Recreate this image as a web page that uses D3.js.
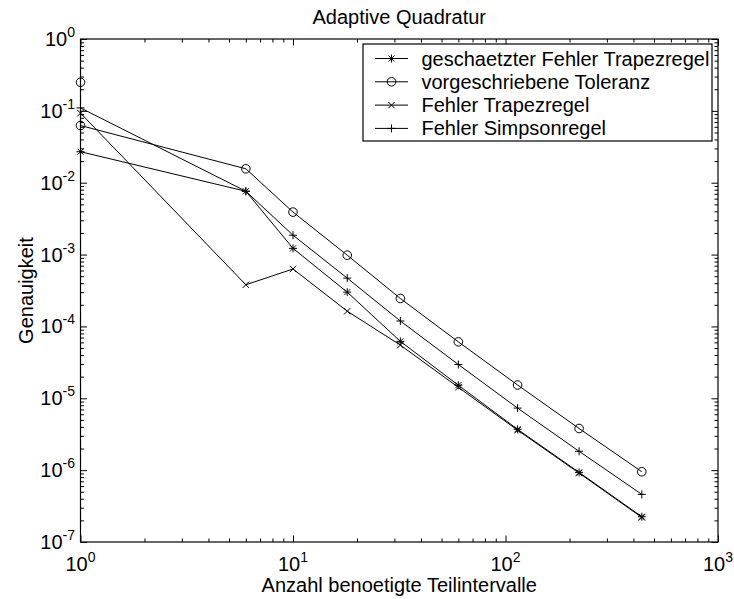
<!DOCTYPE html>
<html>
<head>
<meta charset="utf-8">
<script src="https://cdn.jsdelivr.net/npm/d3@7"></script>
<style>
  body { margin: 0; background: #fff; }
  svg { display: block; font-family: "Liberation Sans", Arial, Helvetica, sans-serif; }
</style>
</head>
<body>
<div id="chart"></div>
<script>
// Werte
var nIntervals = [1, 6, 10, 18, 32, 60, 114, 222, 438];
var tolIntervals = [1, 1, 6, 10, 18, 32, 60, 114, 222, 438];
var estTrapErr = [0.027, 0.0076, 1.22e-3, 3.0e-4, 6.2e-5, 1.52e-5, 3.7e-6, 9.3e-7, 2.25e-7];
var tolerance = [0.25, 0.0625, 0.015625, 0.0039, 9.8e-4, 2.45e-4, 6.1e-5, 1.53e-5, 3.8e-6, 9.5e-7];
var trapErr = [0.093, 3.8e-4, 6.3e-4, 1.63e-4, 5.5e-5, 1.42e-5, 3.6e-6, 9.1e-7, 2.2e-7];
var simpErr = [0.11, 0.0076, 1.86e-3, 4.7e-4, 1.19e-4, 2.95e-5, 7.3e-6, 1.83e-6, 4.6e-7];

var legendLabels = ["geschaetzter Fehler Trapezregel", "vorgeschriebene Toleranz", "Fehler Trapezregel", "Fehler Simpsonregel"];
var xTickExp = [0, 1, 2, 3];
var yTickExp = [-7, -6, -5, -4, -3, -2, -1, 0];

var width = 734, height = 599;
var margin = {top: 39, right: 16, bottom: 57, left: 80.5};

var x = d3.scaleLog().domain([1, 1000]).range([margin.left, width - margin.right]);
var y = d3.scaleLog().domain([1e-7, 1]).range([height - margin.bottom, margin.top]);

var svg = d3.select("#chart").append("svg")
    .attr("width", width)
    .attr("height", height);

svg.append("rect").attr("width", width).attr("height", height).attr("fill", "#fff");

// minor tick values
var xMinor = [], yMinor = [];
[1, 10, 100].forEach(function(d) { for (var k = 2; k < 10; k++) xMinor.push(d * k); });
yTickExp.slice(0, -1).forEach(function(e) { for (var k = 2; k < 10; k++) yMinor.push(Math.pow(10, e) * k); });
var xMajor = xTickExp.map(function(e) { return Math.pow(10, e); });
var yMajor = yTickExp.map(function(e) { return Math.pow(10, e); });

var x0 = x.range()[0], x1 = x.range()[1], y0 = y.range()[0], y1 = y.range()[1];

function ticks(axis, tx, ty, vals, size) {
  var g = svg.append("g")
      .attr("transform", "translate(" + tx + "," + ty + ")")
      .call(axis.tickValues(vals).tickSize(-size).tickFormat(""));
  g.select(".domain").remove();
  g.selectAll("line").attr("stroke", "#000").attr("stroke-width", 1);
}
ticks(d3.axisBottom(x), 0, y0, xMajor, 6.5);
ticks(d3.axisBottom(x), 0, y0, xMinor, 3.5);
ticks(d3.axisTop(x), 0, y1, xMajor, 6.5);
ticks(d3.axisTop(x), 0, y1, xMinor, 3.5);
ticks(d3.axisLeft(y), x0, 0, yMajor, 6.5);
ticks(d3.axisLeft(y), x0, 0, yMinor, 3.5);
ticks(d3.axisRight(y), x1, 0, yMajor, 6.5);
ticks(d3.axisRight(y), x1, 0, yMinor, 3.5);

svg.append("rect")
    .attr("x", x0).attr("y", y1)
    .attr("width", x1 - x0).attr("height", y0 - y1)
    .attr("fill", "none").attr("stroke", "#000").attr("stroke-width", 1.2);

// tick labels 10^n
function powLabel(sel, e) {
  sel.append("tspan").text("10");
  sel.append("tspan").attr("font-size", 14).attr("dy", -9).text(String(e).replace("-", "-"));
}
xTickExp.forEach(function(e) {
  var t = svg.append("text")
      .attr("x", x(Math.pow(10, e))).attr("y", 571)
      .attr("text-anchor", "middle").attr("font-size", 20);
  powLabel(t, e);
});
yTickExp.forEach(function(e) {
  var t = svg.append("text")
      .attr("x", x0 - 5.5).attr("y", y(Math.pow(10, e)) + 7)
      .attr("text-anchor", "end").attr("font-size", 20);
  powLabel(t, e);
});

svg.append("text").attr("x", (x0 + x1) / 2).attr("y", 24)
    .attr("text-anchor", "middle").attr("font-size", 20).text("Adaptive Quadratur");
svg.append("text").attr("x", (x0 + x1) / 2).attr("y", 592)
    .attr("text-anchor", "middle").attr("font-size", 20).text("Anzahl benoetigte Teilintervalle");
svg.append("text")
    .attr("transform", "translate(33," + ((y0 + y1) / 2) + ") rotate(-90)")
    .attr("text-anchor", "middle").attr("font-size", 20).text("Genauigkeit");

// markers
var markerPath = {
  star: "M-4,0H4M0,-4V4M-3,-3L3,3M-3,3L3,-3",
  plus: "M-4,0H4M0,-4V4",
  cross: "M-3.2,-3.2L3.2,3.2M-3.2,3.2L3.2,-3.2"
};
function marker(g, type, px, py) {
  if (type === "circle") {
    g.append("circle").attr("cx", px).attr("cy", py).attr("r", 4.3)
        .attr("fill", "none").attr("stroke", "#000").attr("stroke-width", 1);
  } else {
    g.append("path").attr("transform", "translate(" + px + "," + py + ")")
        .attr("d", markerPath[type]).attr("fill", "none")
        .attr("stroke", "#000").attr("stroke-width", 1);
  }
}

var series = [
  {xs: nIntervals, ys: estTrapErr, m: "star"},
  {xs: tolIntervals, ys: tolerance, m: "circle"},
  {xs: nIntervals, ys: trapErr, m: "cross"},
  {xs: nIntervals, ys: simpErr, m: "plus"}
];

var line = d3.line().x(function(d) { return x(d[0]); }).y(function(d) { return y(d[1]); });

series.forEach(function(s) {
  var pts = s.xs.map(function(d, i) { return [d, s.ys[i]]; });
  var g = svg.append("g");
  g.append("path").datum(pts).attr("d", line)
      .attr("fill", "none").attr("stroke", "#000").attr("stroke-width", 1);
  pts.forEach(function(p) { marker(g, s.m, x(p[0]), y(p[1])); });
});

// legend
var lg = svg.append("g");
lg.append("rect").attr("x", 363).attr("y", 44).attr("width", 349).attr("height", 97)
    .attr("fill", "#fff").attr("stroke", "#000").attr("stroke-width", 1.2);
series.forEach(function(s, i) {
  var ry = 58.5 + i * 23.3;
  lg.append("line").attr("x1", 375).attr("x2", 408).attr("y1", ry).attr("y2", ry)
      .attr("stroke", "#000").attr("stroke-width", 1);
  marker(lg, s.m, 391.5, ry);
  lg.append("text").attr("x", 421.5).attr("y", ry + 7)
      .attr("font-size", 20).text(legendLabels[i]);
});
</script>
</body>
</html>
